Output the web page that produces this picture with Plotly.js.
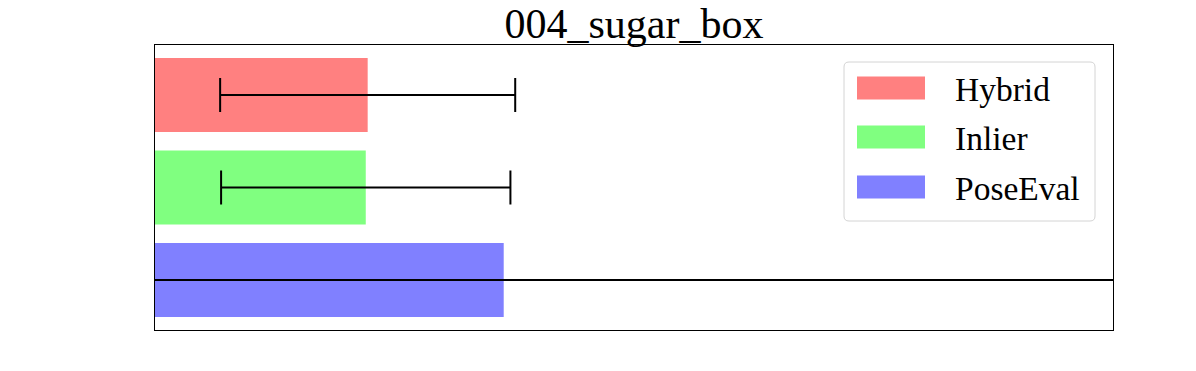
<!DOCTYPE html>
<html>
<head>
<meta charset="utf-8">
<script src="https://cdn.plot.ly/plotly-3.0.1.min.js"></script>
<style>html,body{margin:0;padding:0;background:#fff;}#chart{width:1196px;height:371px;}</style>
</head>
<body>
<div id="chart"></div>
<script>
// Data
const categories = ['Hybrid', 'Inlier', 'PoseEval'];
const meanValues = [0.222, 0.220, 0.364];
const stdValues = [0.154, 0.151, 1.5];
const barColors = ['#ff8080', '#80ff80', '#8080ff'];
const chartTitle = '004_sugar_box';

// Layout geometry (pixels)
const W = 1196, H = 371;
const L = 155, R = 1113, T = 45, B = 330;
const px = x => (x - L) / (R - L);
const py = y => (B - y) / (B - T);
const FONT = 'Liberation Serif, Times New Roman, serif';

const trace = {
  type: 'bar',
  orientation: 'h',
  x: meanValues,
  y: categories,
  width: 0.8,
  marker: {color: barColors, line: {width: 0}},
  error_x: {type: 'data', array: stdValues, visible: true, color: '#000', thickness: 2, width: 17},
  hoverinfo: 'none',
  showlegend: false
};

// Custom legend (matplotlib style)
const shapes = [];
const annotations = [];
function roundRect(x0, y0, x1, y1, r) {
  const p = (x, y) => px(x) + ',' + py(y);
  return 'M' + p(x0 + r, y0) + ' L' + p(x1 - r, y0) + ' Q' + p(x1, y0) + ' ' + p(x1, y0 + r) +
    ' L' + p(x1, y1 - r) + ' Q' + p(x1, y1) + ' ' + p(x1 - r, y1) +
    ' L' + p(x0 + r, y1) + ' Q' + p(x0, y1) + ' ' + p(x0, y1 - r) +
    ' L' + p(x0, y0 + r) + ' Q' + p(x0, y0) + ' ' + p(x0 + r, y0) + ' Z';
}
shapes.push({type: 'path', xref: 'paper', yref: 'paper', path: roundRect(844, 62, 1095, 221, 5),
  line: {color: '#d4d4d4', width: 1}, fillcolor: 'rgba(255,255,255,0.8)', layer: 'above'});
const legendY = [88, 137, 187];
categories.forEach((c, i) => {
  shapes.push({type: 'rect', xref: 'paper', yref: 'paper', x0: px(857), x1: px(925),
    y0: py(legendY[i] + 11.5), y1: py(legendY[i] - 11.5), fillcolor: barColors[i], line: {width: 0}, layer: 'above'});
  annotations.push({xref: 'paper', yref: 'paper', x: px(953), y: py(legendY[i] + 1), xanchor: 'left', yanchor: 'middle',
    text: c, showarrow: false, font: {family: FONT, size: 33.5, color: '#000'}});
});

const axisStyle = {showticklabels: false, ticks: '', showgrid: false, zeroline: false,
  showline: true, mirror: true, linecolor: '#000', linewidth: 1, fixedrange: true};

const layout = {
  width: W, height: H,
  margin: {l: L, r: W - R, t: T, b: H - B, pad: 0},
  paper_bgcolor: '#fff', plot_bgcolor: '#fff',
  title: {text: chartTitle, x: 0.5, xref: 'paper', xanchor: 'center', y: 1 - 23 / H, yref: 'container', yanchor: 'middle',
    font: {family: FONT, size: 42, color: '#000'}},
  xaxis: Object.assign({range: [0, 1]}, axisStyle),
  yaxis: Object.assign({type: 'category', categoryarray: categories, categoryorder: 'array', range: [2.54, -0.54]}, axisStyle),
  shapes: shapes,
  annotations: annotations,
  showlegend: false,
  bargap: 0.2
};

Plotly.newPlot('chart', [trace], layout, {staticPlot: true, displayModeBar: false});
</script>
</body>
</html>
